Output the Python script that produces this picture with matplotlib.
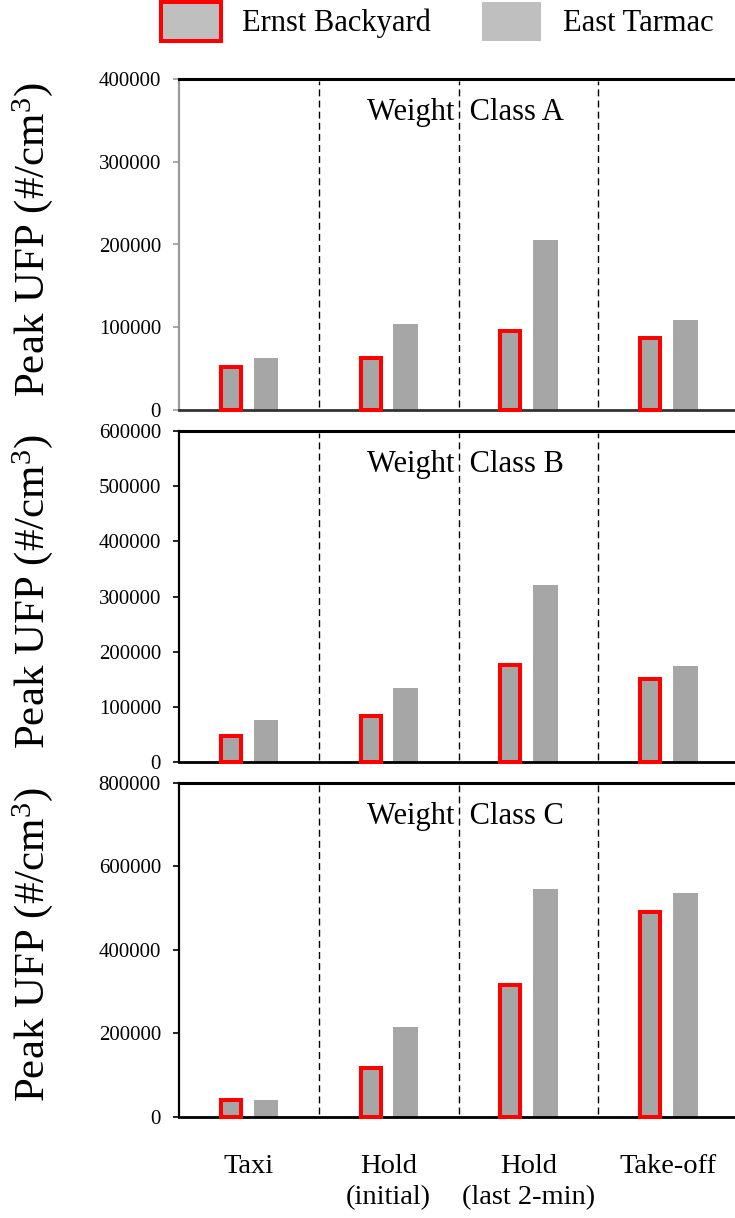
import matplotlib
matplotlib.use("Agg")
import matplotlib.pyplot as plt
from matplotlib.patches import Patch
from matplotlib.ticker import MultipleLocator, StrMethodFormatter

plt.rcParams["font.family"] = ["Liberation Serif", "DejaVu Serif"]
plt.rcParams["mathtext.fontset"] = "custom"
plt.rcParams["mathtext.rm"] = "Liberation Serif"
plt.rcParams["mathtext.it"] = "Liberation Serif:italic"
plt.rcParams["mathtext.bf"] = "Liberation Serif:bold"

# Flight phases and peak UFP concentrations (#/cm3) per weight class
phases = ["Taxi", "Hold\n(initial)", "Hold\n(last 2-min)", "Take-off"]
classes = ["A", "B", "C"]

ernst_A = [52000, 63000, 95000, 87000]
east_A = [63000, 104000, 206000, 109000]
ernst_B = [48000, 84000, 176000, 151000]
east_B = [76000, 134000, 322000, 174000]
ernst_C = [39000, 117000, 315000, 490000]
east_C = [40000, 216000, 547000, 537000]

ymax = [400000, 600000, 800000]
ystep = [100000, 100000, 200000]

ernst_series = [ernst_A, ernst_B, ernst_C]
east_series = [east_A, east_B, east_C]

W, H = 735, 1218
fig = plt.figure(figsize=(W / 100, H / 100), dpi=100)

# panel boxes in pixels: (top, bottom)
boxes = [(79, 410), (431, 762.3), (783, 1116.7)]
left_px, right_px = 179, 738

GRAY = "#a6a6a6"
RED = "#ff0000"
x = list(range(len(phases)))
axes = []
for i, (top, bot) in enumerate(boxes):
    ax = fig.add_axes([left_px / W, 1 - bot / H, (right_px - left_px) / W, (bot - top) / H])
    axes.append(ax)
    ax.bar([p + 0.122 for p in x], east_series[i], width=0.177, color=GRAY,
           linewidth=0, zorder=2, clip_on=False)
    ax.bar([p - 0.128 for p in x], ernst_series[i], width=0.143, color=GRAY,
           edgecolor=RED, linewidth=2.9, zorder=3, clip_on=False)
    for xv in (0.5, 1.5, 2.5):
        ax.axvline(xv, ymin=0.008, ymax=0.993, color="black", lw=1.0,
                   linestyle=(0, (5, 3)), zorder=1)
    ax.set_xlim(-0.5, 3.5)
    ax.set_ylim(0, ymax[i])
    ax.yaxis.set_major_locator(MultipleLocator(ystep[i]))
    ax.yaxis.set_major_formatter(StrMethodFormatter("{x:.0f}"))
    ax.tick_params(axis="y", labelsize=15, length=4, width=1.2, pad=9,
                   direction="out")
    ax.spines["right"].set_visible(False)
    ax.spines["top"].set_linewidth(2.2)
    ax.spines["top"].set_color("black")
    ax.spines["bottom"].set_linewidth(2.0)
    ax.spines["left"].set_linewidth(1.6)
    if i == 0:
        ax.spines["left"].set_color("#9a9a9a")
        ax.spines["bottom"].set_color("#333333")
        ax.tick_params(axis="y", color="#9a9a9a")
    ax.set_xticks(x)
    if i < 2:
        ax.set_xticklabels([])
        ax.tick_params(axis="x", length=0)
    else:
        ax.set_xticklabels(phases, fontsize=20.5, linespacing=1.3)
        ax.tick_params(axis="x", length=0, pad=27)
    ax.set_ylabel("Peak UFP (#/cm$^{3}$)", fontsize=31, va="center")
    ax.yaxis.set_label_coords(-0.262, 0.515)
    ax.text(0.512, 0.877, f"Weight  Class {classes[i]}", transform=ax.transAxes,
            ha="center", va="baseline", fontsize=22, zorder=4)

handles = [
    Patch(facecolor="#bfbfbf", edgecolor=RED, linewidth=2.9, label="Ernst Backyard"),
    Patch(facecolor="#bfbfbf", edgecolor="none", label="East Tarmac"),
]
fig.legend(handles=handles, loc="upper left", bbox_to_anchor=(161 / W, 1 - 2 / H),
           ncol=2, frameon=False, fontsize=22, borderpad=0, borderaxespad=0,
           handlelength=1.95, handleheight=1.58, handletextpad=0.7,
           columnspacing=1.67)

fig.savefig("out.png", dpi=100)
